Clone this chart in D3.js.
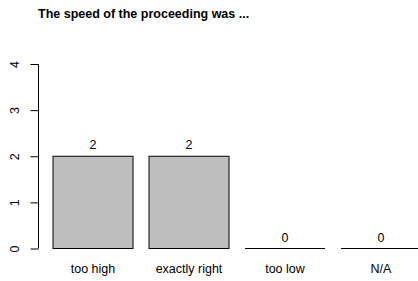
<!DOCTYPE html>
<html>
<head>
<meta charset="utf-8">
<script src="https://cdn.jsdelivr.net/npm/d3@7"></script>
<style>
  body { margin: 0; background: #fff; }
  svg { display: block; font-family: "Liberation Sans", Arial, sans-serif; }
</style>
</head>
<body>
<div id="container"></div>
<script>
var categories = ["too high", "exactly right", "too low", "N/A"]
var counts = [2, 2, 0, 0]
var yTicks = [0, 1, 2, 3, 4]
var title = "The speed of the proceeding was ..."

var width = 418, height = 281

var svg = d3.select("#container").append("svg")
    .attr("width", width)
    .attr("height", height)

// R style barplot: bar width 1, space 0.2
var x = d3.scaleLinear().domain([0, 1]).range([37, 117])
var y = d3.scaleLinear().domain([0, 4]).range([248.5, 64])

function barLeft(i) { return x(0.2 + i * 1.2) }
function barRight(i) { return x(1.2 + i * 1.2) }

svg.append("text")
    .attr("x", 38)
    .attr("y", 18)
    .attr("font-size", "12.5px")
    .attr("font-weight", "bold")
    .attr("fill", "#000")
    .text(title)

// y axis
var axis = svg.append("g")
    .attr("transform", "translate(38.5,0)")
    .call(d3.axisLeft(y).tickValues(yTicks).tickSize(8).tickFormat(d3.format("d")))

axis.select(".domain").attr("stroke", "#000").attr("d", "M0," + y(4) + "V" + y(0))
axis.selectAll(".tick line").attr("stroke", "#000")
axis.selectAll(".tick text")
    .attr("font-size", "12.5px")
    .attr("font-family", "Liberation Sans, Arial, sans-serif")
    .attr("fill", "#000")
    .attr("text-anchor", "middle")
    .attr("x", null)
    .attr("transform", "translate(-24,0) rotate(-90)")
    .attr("y", 0)
    .attr("dy", "0.35em")

// bars
svg.selectAll(".bar")
    .data(counts)
  .enter().append("rect")
    .attr("class", "bar")
    .attr("x", function(d, i) { return barLeft(i) })
    .attr("width", function(d, i) { return barRight(i) - barLeft(i) })
    .attr("y", function(d) { return y(d) })
    .attr("height", function(d) { return y(0) - y(d) })
    .attr("fill", "#bebebe")
    .attr("stroke", "#000")
    .attr("stroke-width", 1)

// bar baselines (zero-height bars show only this line)
svg.selectAll(".base")
    .data(counts)
  .enter().append("line")
    .attr("class", "base")
    .attr("x1", function(d, i) { return barLeft(i) })
    .attr("x2", function(d, i) { return barRight(i) })
    .attr("y1", y(0))
    .attr("y2", y(0))
    .attr("stroke", "#000")

// value labels
svg.selectAll(".val")
    .data(counts)
  .enter().append("text")
    .attr("class", "val")
    .attr("x", function(d, i) { return (barLeft(i) + barRight(i)) / 2 })
    .attr("y", function(d) { return y(d) - 7 })
    .attr("text-anchor", "middle")
    .attr("font-size", "12.5px")
    .attr("fill", "#000")
    .text(function(d) { return d })

// category labels
svg.selectAll(".cat")
    .data(categories)
  .enter().append("text")
    .attr("class", "cat")
    .attr("x", function(d, i) { return (barLeft(i) + barRight(i)) / 2 })
    .attr("y", 273)
    .attr("text-anchor", "middle")
    .attr("font-size", "12.5px")
    .attr("fill", "#000")
    .text(function(d) { return d })
</script>
</body>
</html>
